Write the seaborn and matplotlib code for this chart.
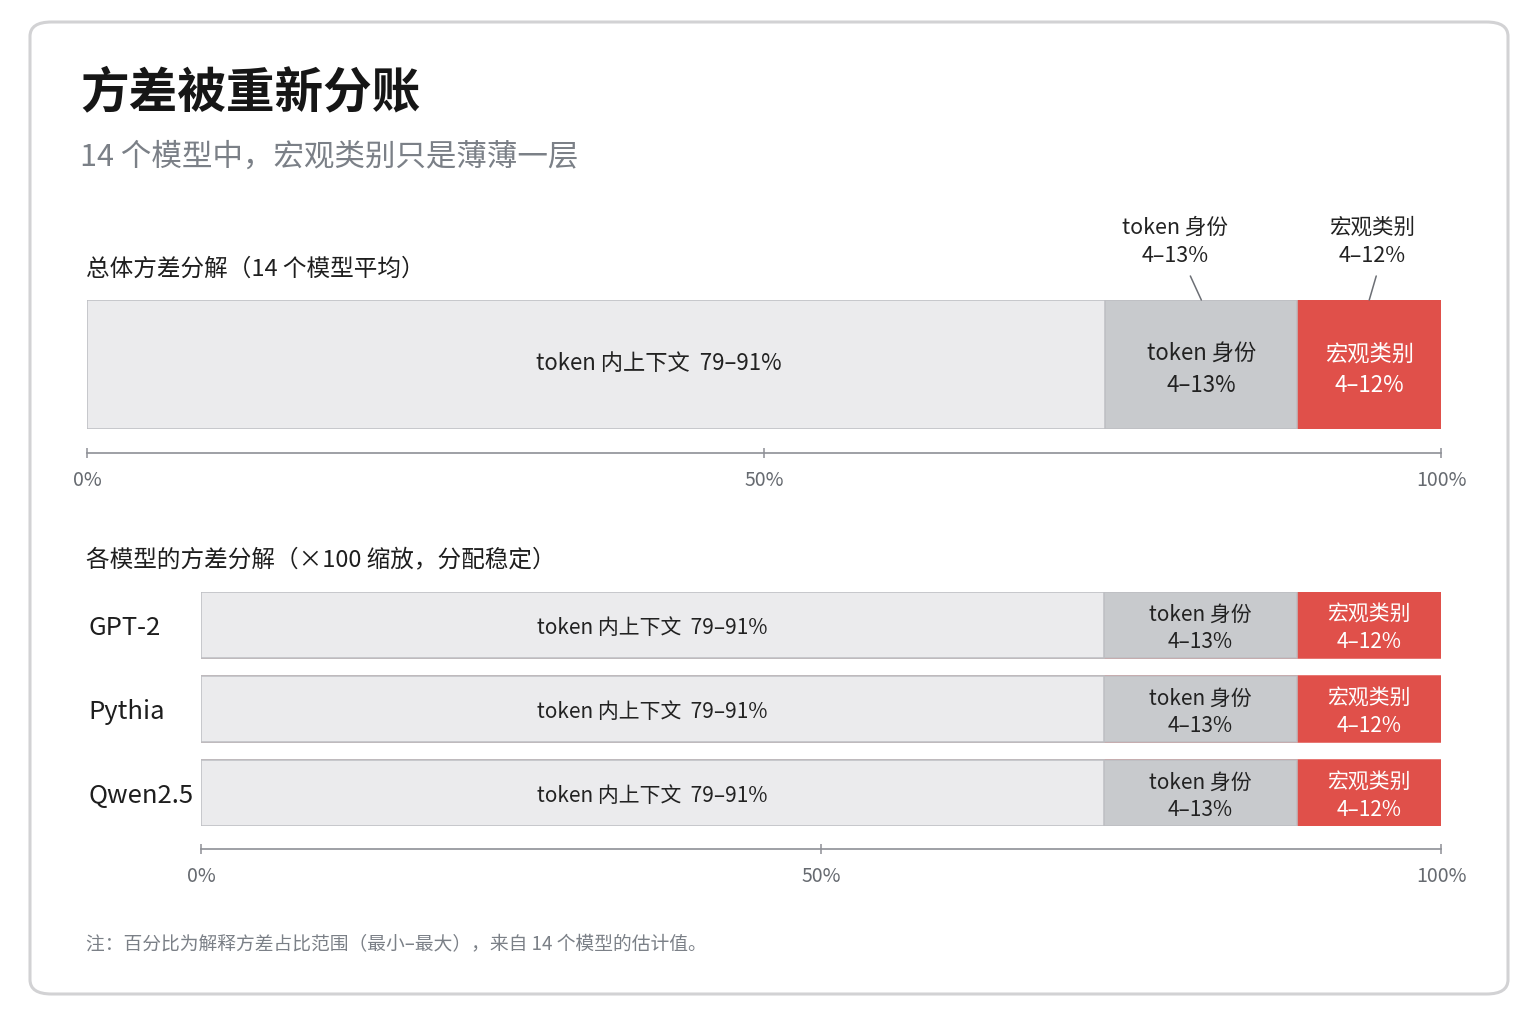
import numpy as np
import matplotlib
matplotlib.use("Agg")
import matplotlib.pyplot as plt
import seaborn as sns
from matplotlib.patches import FancyBboxPatch

SEGMENTS = ["token 内上下文", "token 身份", "宏观类别"]
RANGES = ["79–91%", "4–13%", "4–12%"]
TOP_SHARE = [75.2, 14.2, 10.6]

MODELS = ["GPT-2", "Pythia", "Qwen2.5"]
MODEL_CONTEXT = [72.8, 72.8, 72.8]
MODEL_IDENTITY = [15.6, 15.6, 15.6]
MODEL_MACRO = [11.6, 11.6, 11.6]

TICKS = [0, 50, 100]
TICK_LABELS = ["0%", "50%", "100%"]

C_CTX, C_ID, C_MAC = "#ebebed", "#c8cacd", "#e0504a"
EDGE = "#bdbec2"
W, H = 1536, 1024

sns.set_theme(style="white")
plt.rcParams["font.family"] = ["Noto Sans CJK SC", "DejaVu Sans"]

fig = plt.figure(figsize=(W / 100, H / 100), dpi=100)
fig.patch.set_facecolor("white")

# card
card = FancyBboxPatch((30 / W, 1 - 994 / H), 1478 / W, 972 / H,
                      boxstyle="round,pad=0,rounding_size=0.014",
                      transform=fig.transFigure, facecolor="none",
                      edgecolor="#d2d2d4", linewidth=2.2, zorder=-5)
fig.patches.append(card)


def fx(px):
    return px / W


def fy(py):
    return 1 - py / H


fig.text(fx(80), fy(93), "方差被重新分账", fontsize=35, fontweight="bold",
         color="#161616", va="center")
fig.text(fx(80), fy(157), "14 个模型中，宏观类别只是薄薄一层", fontsize=22,
         color="#7b8087", va="center")
fig.text(fx(86), fy(269), "总体方差分解（14 个模型平均）", fontsize=17,
         color="#1e1e1e", va="center")
fig.text(fx(86), fy(561), "各模型的方差分解（×100 缩放，分配稳定）", fontsize=17,
         color="#1e1e1e", va="center")
fig.text(fx(86), fy(945), "注：百分比为解释方差占比范围（最小–最大），来自 14 个模型的估计值。",
         fontsize=13.5, color="#7b8087", va="center")


def style_axis(ax, outward_px):
    for s in ["top", "right", "left"]:
        ax.spines[s].set_visible(False)
    ax.spines["bottom"].set_position(("outward", outward_px * 0.72))
    ax.spines["bottom"].set_color("#8e9096")
    ax.spines["bottom"].set_linewidth(1.2)
    ax.set_xlim(0, 100)
    ax.set_xticks(TICKS)
    ax.set_xticklabels(TICK_LABELS)
    ax.tick_params(axis="x", bottom=True, direction="inout", length=7, width=1.1,
                   color="#8e9096", labelsize=14, labelcolor="#666a70", pad=9)
    ax.set_xlabel("")
    ax.set_ylabel("")
    ax.set_facecolor("none")


def stacked(ax, cats, parts, width):
    cum = np.cumsum(np.array(parts), axis=0)
    colors = [C_CTX, C_ID, C_MAC]
    edges = [EDGE, EDGE, C_MAC]
    for i in range(len(parts) - 1, -1, -1):
        sns.barplot(x=cum[i], y=cats, orient="h", color=colors[i], saturation=1,
                    width=width, edgecolor=edges[i], linewidth=1.1, ax=ax)
    return cum


# ---- top panel ----
ax1 = fig.add_axes([fx(87), fy(429), fx(1441) - fx(87), (429 - 300) / H])
wt = 0.8
cum1 = stacked(ax1, ["总体"], [[v] for v in TOP_SHARE], wt)
ax1.set_ylim(wt / 2, -wt / 2)
ax1.set_yticks([])
style_axis(ax1, 24)

starts = [0] + list(cum1[:-1, 0])
for i, (lab, rng) in enumerate(zip(SEGMENTS, RANGES)):
    cx = starts[i] + TOP_SHARE[i] / 2
    if i == 0:
        ax1.text(cx + 4.6, -0.008, f"{lab}  {rng}", ha="center", va="center",
                 fontsize=16, color="#222222")
        continue
    col = "white" if i == 2 else "#222222"
    ax1.text(cx, 0.035, f"{lab}\n{rng}", ha="center", va="center", fontsize=16,
             color=col, linespacing=1.45)
    # callout above the bar
    tdx, ldx = (-26, -11) if i == 1 else (3, 7)
    ax1.annotate("", xy=(cx, 1.0), xycoords=("data", "axes fraction"),
                 xytext=(ldx * 0.72, 24 * 0.72), textcoords="offset points",
                 arrowprops=dict(arrowstyle="-", color="#6c6f75", lw=1.1,
                                 shrinkA=0, shrinkB=0))
    ax1.annotate(f"{lab}\n{rng}", xy=(cx, 1.0), xycoords=("data", "axes fraction"),
                 xytext=(tdx * 0.72, 58 * 0.72), textcoords="offset points",
                 ha="center", va="center", fontsize=15.5, color="#222222",
                 linespacing=1.35)

# ---- bottom panel ----
ax2 = fig.add_axes([fx(201), fy(826), fx(1441) - fx(201), (826 - 592) / H])
wb = 0.79
cum2 = stacked(ax2, MODELS, [MODEL_CONTEXT, MODEL_IDENTITY, MODEL_MACRO], wb)
ax2.set_ylim(len(MODELS) - 1 + wb / 2, -wb / 2)
style_axis(ax2, 23)
ax2.set_yticks(range(len(MODELS)))
ax2.set_yticklabels(MODELS)
ax2.tick_params(axis="y", length=0, pad=113 * 0.72, labelsize=18.5,
                labelcolor="#1e1e1e")
for t in ax2.get_yticklabels():
    t.set_ha("left")

parts2 = [MODEL_CONTEXT, MODEL_IDENTITY, MODEL_MACRO]
for j in range(len(MODELS)):
    left = 0
    for i, (lab, rng) in enumerate(zip(SEGMENTS, RANGES)):
        v = parts2[i][j]
        cx = left + v / 2
        left += v
        if i == 0:
            ax2.text(cx, j + 0.035, f"{lab}  {rng}", ha="center", va="center",
                     fontsize=15, color="#222222")
        else:
            col = "white" if i == 2 else "#222222"
            ax2.text(cx, j + 0.04, f"{lab}\n{rng}", ha="center", va="center",
                     fontsize=15, color=col, linespacing=1.3)

fig.savefig("out.png", dpi=100, facecolor="white")
